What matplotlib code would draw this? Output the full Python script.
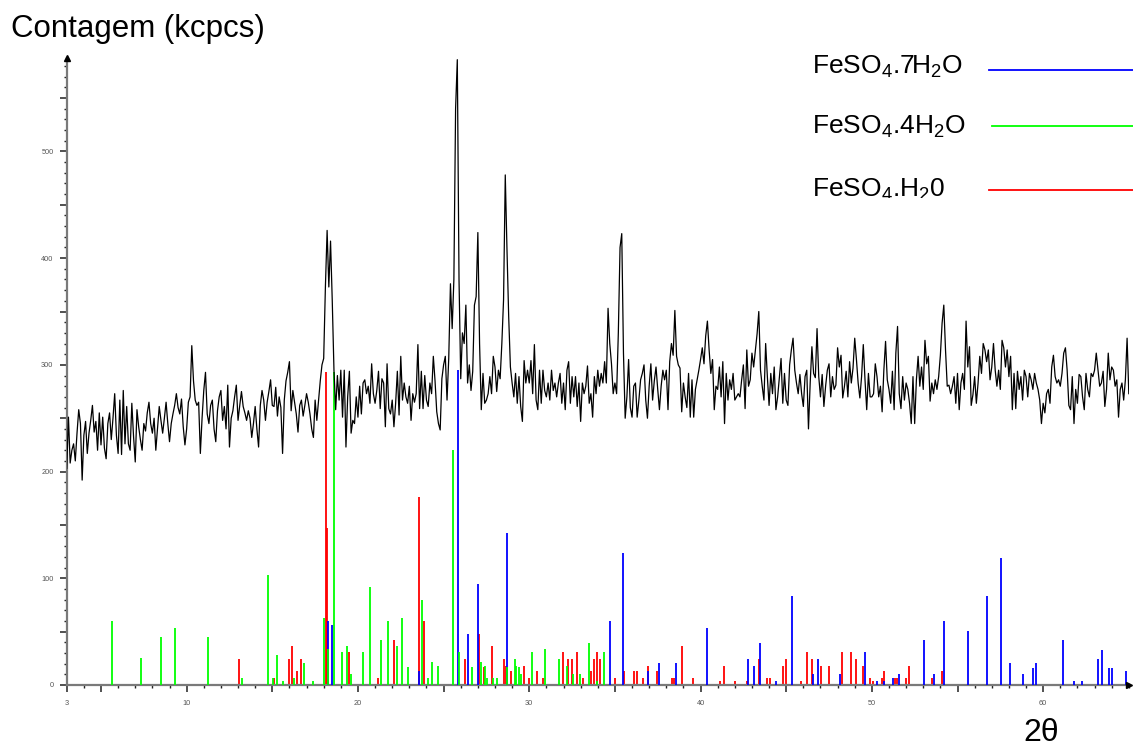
import numpy as np
import matplotlib
matplotlib.use('Agg')
import matplotlib.pyplot as plt
from matplotlib.ticker import FixedLocator, MultipleLocator, FuncFormatter
from matplotlib.transforms import Bbox, TransformedBbox

plt.rcParams['font.family'] = ['Liberation Sans', 'DejaVu Sans']
plt.rcParams['mathtext.fontset'] = 'custom'
plt.rcParams['mathtext.rm'] = 'Liberation Sans'
plt.rcParams['mathtext.it'] = 'Liberation Sans'

# measured pattern, 2theta from 3 to 65 deg, step 0.1
counts = [
    203, 251, 208, 220, 226, 210, 236, 258, 245, 192,   # 3
    234, 247, 217, 236, 248, 262, 237, 247, 220, 255,   # 4
    225, 251, 222, 212, 245, 255, 230, 250, 273, 234,   # 5
    217, 267, 216, 276, 226, 261, 226, 220, 264, 233,   # 6
    209, 258, 242, 230, 220, 245, 238, 255, 265, 245,   # 7
    236, 250, 220, 240, 261, 248, 236, 250, 265, 245,   # 8
    228, 245, 254, 262, 273, 260, 254, 268, 242, 225,   # 9
    240, 265, 270, 318, 285, 267, 262, 265, 217, 250,   # 10
    276, 293, 254, 245, 262, 267, 240, 228, 257, 270,   # 11
    276, 248, 261, 240, 281, 223, 250, 257, 270, 281,   # 12
    248, 262, 275, 261, 255, 248, 257, 250, 232, 245,   # 13
    261, 240, 223, 262, 276, 267, 248, 265, 275, 286,   # 14
    262, 261, 279, 252, 270, 260, 217, 267, 285, 293,   # 15
    303, 257, 276, 265, 254, 237, 262, 267, 252, 262,   # 16
    273, 265, 254, 240, 232, 267, 248, 267, 285, 300,   # 17
    306, 373, 426, 373, 416, 360, 295, 258, 290, 267,   # 18
    295, 251, 295, 223, 270, 294, 236, 248, 245, 270,   # 19
    251, 280, 254, 283, 286, 273, 280, 264, 301, 273,   # 20
    264, 276, 294, 259, 287, 283, 242, 301, 259, 254,   # 21
    267, 242, 264, 294, 253, 308, 267, 283, 270, 264,   # 22
    280, 248, 273, 265, 273, 319, 259, 294, 259, 290,   # 23
    267, 261, 283, 273, 308, 285, 256, 245, 239, 287,   # 24
    300, 308, 267, 306, 376, 334, 380, 540, 586, 380,   # 25
    287, 330, 320, 356, 283, 300, 276, 294, 356, 364,   # 26
    424, 320, 258, 292, 264, 267, 273, 289, 273, 308,   # 27
    298, 275, 295, 287, 320, 361, 478, 408, 345, 298,   # 28
    283, 270, 292, 264, 289, 261, 247, 304, 283, 295,   # 29
    283, 304, 273, 319, 267, 258, 295, 264, 295, 276,   # 30
    270, 283, 267, 295, 276, 283, 270, 283, 292, 264,   # 31
    283, 258, 295, 303, 264, 289, 270, 289, 261, 283,   # 32
    247, 283, 273, 280, 299, 264, 273, 251, 289, 273,   # 33
    295, 280, 292, 283, 303, 283, 353, 320, 301, 273,   # 34
    283, 273, 330, 410, 423, 311, 250, 270, 305, 260,   # 35
    251, 280, 283, 251, 267, 286, 292, 300, 267, 250,   # 36
    280, 301, 267, 285, 298, 277, 258, 280, 295, 286,   # 37
    295, 258, 303, 320, 309, 351, 308, 300, 297, 256,   # 38
    283, 270, 260, 292, 251, 286, 251, 277, 286, 295,   # 39
    305, 316, 301, 327, 341, 314, 292, 305, 258, 280,   # 40
    277, 298, 270, 303, 245, 292, 267, 286, 277, 292,   # 41
    267, 270, 273, 270, 286, 300, 259, 314, 280, 286,   # 42
    311, 298, 314, 329, 350, 295, 280, 267, 320, 289,   # 43
    262, 292, 273, 298, 258, 270, 288, 306, 264, 292,   # 44
    267, 262, 300, 314, 325, 295, 283, 273, 291, 273,   # 45
    261, 289, 295, 240, 283, 317, 292, 288, 334, 289,   # 46
    270, 291, 261, 280, 295, 301, 270, 289, 277, 281,   # 47
    316, 298, 309, 269, 280, 294, 270, 303, 283, 297,   # 48
    325, 305, 283, 269, 289, 319, 286, 258, 292, 270,   # 49
    270, 273, 301, 289, 270, 280, 256, 295, 322, 286,   # 50
    277, 264, 294, 258, 311, 336, 273, 259, 289, 267,   # 51
    283, 277, 264, 245, 289, 245, 286, 308, 280, 298,   # 52
    277, 323, 301, 308, 266, 283, 273, 286, 277, 289,   # 53
    309, 339, 356, 314, 280, 281, 273, 280, 289, 264,   # 54
    292, 258, 283, 292, 277, 341, 298, 317, 262, 272,   # 55
    289, 264, 283, 308, 292, 320, 314, 303, 314, 286,   # 56
    298, 320, 295, 280, 295, 277, 323, 316, 298, 314,   # 57
    289, 308, 258, 292, 259, 294, 277, 289, 267, 295,   # 58
    289, 270, 292, 286, 277, 292, 283, 277, 267, 245,   # 59
    264, 255, 273, 277, 264, 298, 309, 289, 283, 286,   # 60
    280, 292, 311, 316, 295, 262, 258, 289, 245, 277,   # 61
    264, 291, 289, 270, 258, 292, 277, 270, 292, 289,   # 62
    295, 311, 295, 280, 283, 294, 261, 277, 311, 286,   # 63
    298, 295, 280, 286, 251, 277, 283, 267, 286, 325,   # 64
    273,                                                # 65
]
two_theta = np.linspace(3.0, 65.0, len(counts))

# reference patterns (stick positions and intensities)
h7_pos = [18.27, 18.51, 23.59, 25.86, 26.41, 26.99, 28.70, 34.74, 35.46, 36.95,
          37.60, 38.55, 40.40, 42.79, 43.14, 43.47, 44.39, 45.34, 46.58, 46.84,
          48.16, 49.60, 50.28, 50.73, 51.21, 51.58, 53.06, 53.65, 54.19, 55.63,
          56.70, 57.52, 58.04, 58.82, 59.39, 59.58, 61.18, 61.78, 62.25, 63.22,
          63.42, 63.86, 64.04, 64.82]
h7_int = [60, 56, 13, 295, 48, 95, 142, 60, 124, 13,
          21, 21, 53, 24, 18, 39, 4, 83, 10, 24,
          10, 31, 4, 4, 7, 10, 42, 10, 60, 51,
          83, 119, 21, 10, 16, 21, 42, 4, 4, 24,
          33, 16, 16, 13]

h4_pos = [5.63, 7.34, 8.49, 9.30, 11.23, 13.21, 14.73, 15.02, 15.26, 15.61,
          16.25, 16.85, 17.40, 18.00, 18.25, 18.58, 19.07, 19.38, 19.58, 20.28,
          20.73, 21.37, 21.74, 22.30, 22.55, 22.94, 23.72, 24.07, 24.31, 24.68,
          25.57, 25.90, 26.64, 27.17, 27.44, 27.52, 27.91, 28.10, 28.72, 29.15,
          29.23, 29.42, 29.54, 30.16, 30.94, 31.72, 32.19, 32.54, 32.99, 33.47,
          33.94, 34.35]
h4_int = [60, 25, 45, 53, 45, 7, 103, 7, 28, 4,
          7, 21, 4, 63, 34, 293, 31, 37, 10, 31,
          92, 42, 60, 37, 63, 17, 80, 7, 22, 18,
          220, 31, 17, 22, 18, 7, 7, 7, 17, 24,
          18, 17, 10, 31, 34, 24, 18, 10, 10, 39,
          4, 31]

h1_pos = [13.04, 15.10, 15.96, 16.17, 16.42, 16.66, 18.12, 18.20, 19.48, 21.15,
          22.09, 23.59, 23.88, 26.27, 27.09, 27.38, 27.81, 28.55, 28.65, 28.96,
          29.68, 29.97, 30.44, 30.79, 31.95, 32.28, 32.48, 32.77, 33.12, 33.63,
          33.80, 33.94, 34.13, 35.01, 35.53, 36.10, 36.29, 36.62, 36.92, 37.44,
          38.36, 38.47, 38.90, 39.54, 41.16, 41.35, 42.03, 42.70, 43.43, 43.86,
          44.06, 44.79, 44.97, 45.86, 46.19, 46.52, 47.01, 47.50, 48.24, 48.78,
          49.05, 49.46, 49.89, 50.09, 50.57, 50.69, 51.35, 51.45, 51.99, 52.15,
          53.53, 54.11]
h1_int = [24, 7, 24, 37, 13, 24, 293, 147, 31, 7,
          42, 176, 60, 24, 48, 17, 37, 24, 18, 13,
          18, 7, 13, 7, 31, 24, 24, 31, 7, 13,
          24, 31, 24, 7, 13, 13, 13, 7, 18, 13,
          7, 7, 37, 7, 4, 18, 4, 4, 24, 7,
          7, 18, 24, 4, 31, 24, 18, 18, 31, 31,
          24, 18, 7, 4, 7, 13, 7, 7, 7, 18,
          7, 13]

labels = [r'FeSO$_4$.7H$_2$O', r'FeSO$_4$.4H$_2$O', r'FeSO$_4$.H$_2$0']
colors = ['#0000ff', '#00ff00', '#ff0000']

fig = plt.figure(figsize=(11.33, 7.47), dpi=100)
ax = fig.add_axes([0.0589, 0.0830, 0.9374, 0.8394])

ax.vlines(h1_pos, 0, h1_int, colors=colors[2], lw=1.3, zorder=2)
ax.vlines(h7_pos, 0, h7_int, colors=colors[0], lw=1.3, zorder=3)
ax.vlines(h4_pos, 0, h4_int, colors=colors[1], lw=1.3, zorder=4)
ax.plot(two_theta, counts, color='black', lw=0.9, zorder=5)

ax.set_xlim(3, 65)
ax.set_ylim(0, 587.6)

for s in ['top', 'right']:
    ax.spines[s].set_visible(False)
for s in ['left', 'bottom']:
    ax.spines[s].set_color('#7a7a7a')
    ax.spines[s].set_linewidth(1.6)

ax.xaxis.set_major_locator(FixedLocator([3] + list(range(5, 65, 5))))
ax.xaxis.set_minor_locator(MultipleLocator(1))
ax.xaxis.set_major_formatter(FuncFormatter(
    lambda v, p: '%d' % v if (v == 3 or v % 10 == 0) else ''))
ax.yaxis.set_major_locator(FixedLocator(list(range(0, 600, 50))))
ax.yaxis.set_minor_locator(MultipleLocator(10))
ax.yaxis.set_major_formatter(FuncFormatter(
    lambda v, p: '%d' % v if v % 100 == 0 else ''))
ax.tick_params(which='major', length=5, width=1.1, color='#222222',
               labelsize=5.3, labelcolor='#555555')
ax.tick_params(axis='x', which='major', pad=5.5)
ax.tick_params(axis='y', which='major', pad=4.5)
ax.tick_params(which='minor', length=2.5, width=1.0, color='#222222')

# axis arrows
ax.plot([0], [1], marker='^', color='black', markersize=5,
        transform=ax.transAxes, clip_on=False, zorder=6)
ax.plot([1], [0], marker='>', color='black', markersize=5,
        transform=ax.transAxes, clip_on=False, zorder=6)

fig.text(11 / 1133, 1 - 37.5 / 747, 'Contagem (kcpcs)', fontsize=22.5,
         ha='left', va='baseline')
fig.text(1023 / 1133, 1 - 741 / 747, '2θ', fontsize=23, ha='left',
         va='baseline')

# legend drawn by hand at the upper right
leg_base = [74, 134, 197]
leg_line = [69.5, 126, 189.5]
leg_x0 = [989, 992, 989]
clip = TransformedBbox(Bbox([[0, 1 - 197.5 / 747], [1, 1]]), fig.transFigure)
for lab, c, yb, yl, x0 in zip(labels, colors, leg_base, leg_line, leg_x0):
    t = fig.text(812 / 1133, 1 - yb / 747, lab, fontsize=19, ha='left',
                 va='baseline')
    t.set_clip_box(clip)
    t.set_clip_on(True)
    fig.add_artist(plt.Line2D([x0 / 1133, 1.0], [1 - yl / 747] * 2,
                              color=c, lw=1.3, transform=fig.transFigure))

fig.savefig('out.png', dpi=100)
